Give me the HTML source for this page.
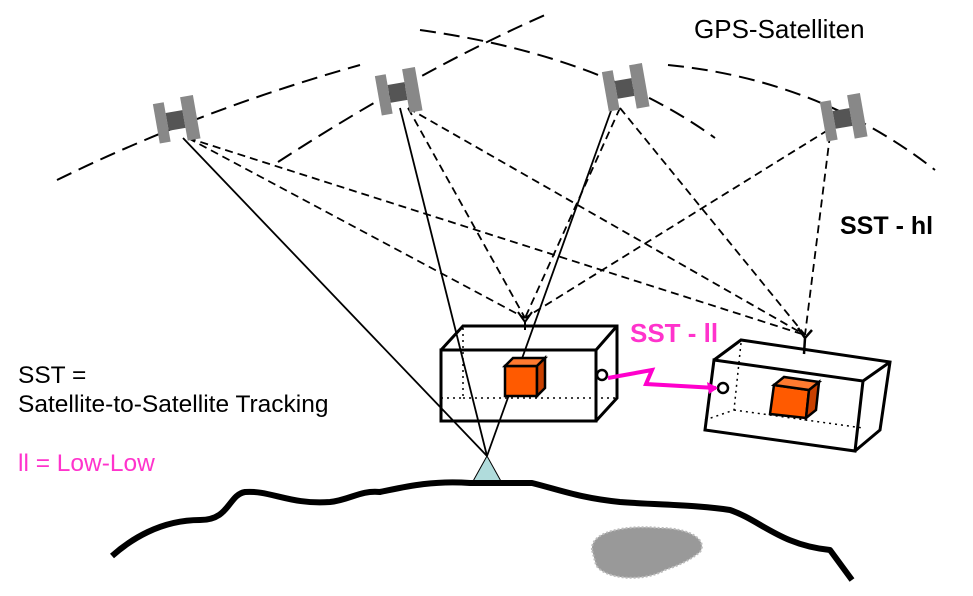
<!DOCTYPE html>
<html><head><style>body{margin:0;background:#fff}svg{display:block}</style></head><body>
<svg width="973" height="596" viewBox="0 0 973 596" xmlns="http://www.w3.org/2000/svg" font-family="Liberation Sans, sans-serif">
<g fill="none" stroke="#000" stroke-width="2" stroke-dasharray="16,8">
<path d="M57,180 Q200,110 360,65"/>
<path d="M278,162 Q420,70 545,15"/>
<path d="M420,30 Q600,55 715,138"/>
<path d="M668,65 Q820,80 935,170"/>
</g>
<g stroke="#000" stroke-width="1.8" fill="none">
<line x1="183" y1="138" x2="487" y2="456"/>
<line x1="400" y1="108" x2="487" y2="456"/>
<line x1="612" y1="108" x2="487" y2="456"/>
<g stroke-dasharray="8,5">
<line x1="188" y1="138" x2="525" y2="318"/>
<line x1="188" y1="138" x2="805" y2="335"/>
<line x1="408" y1="108" x2="525" y2="318"/>
<line x1="408" y1="108" x2="805" y2="335"/>
<line x1="620" y1="108" x2="525" y2="318"/>
<line x1="620" y1="108" x2="805" y2="335"/>
<line x1="828" y1="130" x2="525" y2="318"/>
<line x1="830" y1="135" x2="805" y2="335"/>
</g>
<path d="M518,312 L525,322 L532,312 M525,322 L525,330" stroke-width="2"/>
<path d="M798,328 L805,338 L812,330 M805,338 L804,354" stroke-width="2.5"/>
</g>
<g fill="#888">
<g transform="translate(178,120) rotate(-10)"><rect x="-22" y="-20" width="11" height="40"/><rect x="6" y="-22" width="13" height="44"/><rect x="-11" y="-9" width="17" height="18" fill="#555"/></g>
<g transform="translate(400,92) rotate(-10)"><rect x="-22" y="-20" width="11" height="40"/><rect x="6" y="-22" width="13" height="44"/><rect x="-11" y="-9" width="17" height="18" fill="#555"/></g>
<g transform="translate(627,88) rotate(-10)"><rect x="-22" y="-20" width="11" height="40"/><rect x="6" y="-22" width="13" height="44"/><rect x="-11" y="-9" width="17" height="18" fill="#555"/></g>
<g transform="translate(845,118) rotate(-10)"><rect x="-22" y="-20" width="11" height="40"/><rect x="6" y="-22" width="13" height="44"/><rect x="-11" y="-9" width="17" height="18" fill="#555"/></g>
</g>
<g stroke="#000" fill="none">
<path d="M441,398 L463,398 L463,326 M463,398 L617,398" stroke-dasharray="2,4" stroke-width="1.5"/>
<path d="M441,350 L463,326 L617,326 L617,398 L596,421 M596,350 L617,326" stroke-width="3"/>
<rect x="441" y="350" width="155" height="71" stroke-width="3"/>
<circle cx="602" cy="375" r="5" stroke-width="2.5"/>
</g>
<g stroke="#000" stroke-width="2.5">
<rect x="505" y="366" width="32" height="30" fill="#ff5a00"/>
<polygon points="505,366 513,358 545,358 537,366" fill="#ff7a30"/>
<polygon points="537,366 545,358 545,388 537,396" fill="#c84000"/>
</g>
<g stroke="#000" fill="none">
<path d="M705,420 L734,410 L741,343 M734,410 L863,428" stroke-dasharray="2,4" stroke-width="1.5"/>
<polygon points="714,360 863,381 855,451 705,430" stroke-width="3"/>
<path d="M714,360 L741,340 L890,362 L880,430 L855,451 M863,381 L890,362" stroke-width="3"/>
<circle cx="723" cy="388" r="5" stroke-width="2.5"/>
</g>
<g stroke="#000" stroke-width="2.5">
<polygon points="774,385 809,390 806,418 770,414" fill="#ff5a00"/>
<polygon points="774,385 784,377 819,382 809,390" fill="#ff7a30"/>
<polygon points="809,390 819,382 816,410 806,418" fill="#c84000"/>
</g>
<path d="M608,378 L652,370 L646,384 L716,388" stroke="#ff00cc" stroke-width="4" fill="none"/>
<polygon points="718,388 707,382 709,394" fill="#ff00cc"/>
<polygon points="487,456 472,483 502,483" fill="#b0dcdc" stroke="#000" stroke-width="1"/>
<path d="M112,556 C130,540 160,520 200,520 C230,520 228,495 245,492 C270,490 290,505 330,502 C350,500 360,490 380,492 C400,488 430,480 470,483 L532,483 C560,490 580,498 620,502 C660,505 700,505 730,510 C760,520 780,545 830,550 L852,580" stroke="#000" stroke-width="6" fill="none" stroke-linejoin="round"/>
<path d="M592,550 C590,530 630,525 660,528 C690,528 708,540 700,552 C690,560 680,565 665,570 C645,582 605,580 596,565 Z" fill="#999" stroke="#bbb" stroke-width="2" stroke-dasharray="2,2"/>
<text x="694" y="38" font-size="26">GPS-Satelliten</text>
<text x="840" y="234" font-size="25" font-weight="bold">SST - hl</text>
<text x="630" y="342" font-size="26" font-weight="bold" fill="#ff33cc">SST - ll</text>
<text x="18" y="383" font-size="24.5">SST =</text>
<text x="18" y="412" font-size="24.5">Satellite-to-Satellite Tracking</text>
<text x="18" y="471" font-size="24.5" fill="#ff33cc">ll = Low-Low</text>
</svg>
</body></html>
